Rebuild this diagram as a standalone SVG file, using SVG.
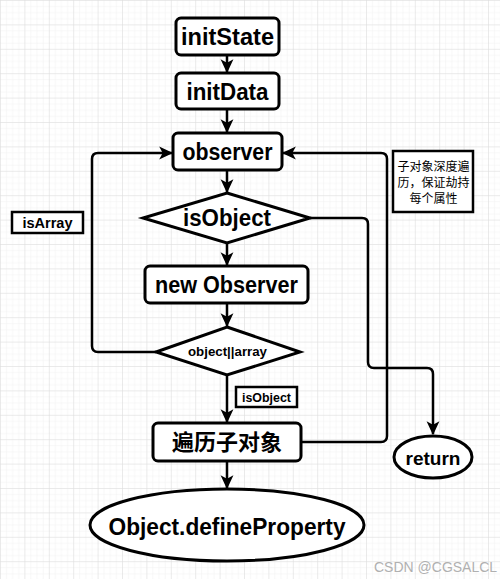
<svg xmlns="http://www.w3.org/2000/svg" width="500" height="579" viewBox="0 0 500 579">
<defs>
<pattern id="minor" width="6.1" height="6.1" patternUnits="userSpaceOnUse">
<path d="M0,0 V6.1 M0,0 H6.1" stroke="#f0f0f0" stroke-width="1" fill="none"/>
</pattern>
<pattern id="major" width="24.4" height="24.4" patternUnits="userSpaceOnUse">
<rect width="24.4" height="24.4" fill="url(#minor)"/>
<path d="M0,0 V24.4 M0,0 H24.4" stroke="#dcdcdc" stroke-width="1" fill="none"/>
</pattern>
<marker id="arr" markerUnits="userSpaceOnUse" markerWidth="14" markerHeight="14" viewBox="0 0 12 12" refX="11" refY="6" orient="auto">
<path d="M0,0.5 L12,6 L0,11.5 L3,6 z" fill="#000"/>
</marker>
<style>
.box{fill:#fff;stroke:#000;stroke-width:3}
.lbl{fill:#fff;stroke:#000;stroke-width:2.5}
.t{font-family:"Liberation Sans","DejaVu Sans",sans-serif;font-weight:bold;fill:#000;text-anchor:middle;dominant-baseline:central}
.c{font-family:"Liberation Sans","Noto Sans CJK SC",sans-serif;fill:#000;text-anchor:middle;dominant-baseline:central}
.line{fill:none;stroke:#000;stroke-width:2.5}
</style>
</defs>
<rect width="500" height="579" fill="#fff"/>
<rect width="500" height="579" fill="url(#major)"/>

<g id="connectors">
<path class="line" d="M227,55 V72" marker-end="url(#arr)"/>
<path class="line" d="M227,109 V132" marker-end="url(#arr)"/>
<path class="line" d="M227,170 V192" marker-end="url(#arr)"/>
<path class="line" d="M227,243 V265" marker-end="url(#arr)"/>
<path class="line" d="M227,303 V326" marker-end="url(#arr)"/>
<path class="line" d="M227,375 V422" marker-end="url(#arr)"/>
<path class="line" d="M227,461 V488" marker-end="url(#arr)"/>
<path class="line" d="M156,352 H98 Q92,352 92,346 V159 Q92,153 98,153 H172" marker-end="url(#arr)"/>
<path class="line" d="M301,442 H381 Q387,442 387,436 V159 Q387,153 381,153 H283" marker-end="url(#arr)"/>
<path class="line" d="M310,218 H362 Q368,218 368,224 V362 Q368,368 374,368 H427 Q433,368 433,374 V434" marker-end="url(#arr)"/>
</g>

<g id="initState">
<rect class="box" x="176" y="18" width="103" height="37" rx="5"/>
<text class="t" x="227.5" y="37" font-size="23" textLength="93" lengthAdjust="spacingAndGlyphs">initState</text>
</g>
<g id="initData">
<rect class="box" x="176" y="73" width="103" height="36" rx="5"/>
<text class="t" x="227.5" y="91.5" font-size="23" textLength="82" lengthAdjust="spacingAndGlyphs">initData</text>
</g>
<g id="observer">
<rect class="box" x="173" y="133" width="109" height="37" rx="5"/>
<text class="t" x="227.5" y="152" font-size="23" textLength="90" lengthAdjust="spacingAndGlyphs">observer</text>
</g>
<g id="isObject">
<polygon class="box" points="227,193 310,218 227,243 143,218"/>
<text class="t" x="227" y="218" font-size="23" textLength="88" lengthAdjust="spacingAndGlyphs">isObject</text>
</g>
<g id="newObserver">
<rect class="box" x="145" y="266" width="163" height="37" rx="5"/>
<text class="t" x="226.5" y="285" font-size="23" textLength="143" lengthAdjust="spacingAndGlyphs">new Observer</text>
</g>
<g id="objectOrArray">
<polygon class="box" points="227,327 300,352 227,375 156,352"/>
<text class="t" x="227.5" y="352" font-size="12" textLength="79" lengthAdjust="spacingAndGlyphs">object||array</text>
</g>
<g id="isObjectLabel">
<rect class="lbl" x="236" y="387" width="61" height="20"/>
<text class="t" x="266.5" y="397.5" font-size="12" textLength="49" lengthAdjust="spacingAndGlyphs">isObject</text>
</g>
<g id="isArrayLabel">
<rect class="lbl" x="12" y="212" width="71" height="21"/>
<text class="t" x="47.5" y="223" font-size="14" textLength="50" lengthAdjust="spacingAndGlyphs">isArray</text>
</g>
<g id="traverse">
<rect class="box" x="153" y="423" width="148" height="38" rx="5"/>
<text class="c" x="227" y="442" font-size="22" font-weight="bold" font-family="'Noto Sans CJK SC',sans-serif">遍历子对象</text>
</g>
<g id="note">
<rect class="lbl" x="393" y="151" width="80" height="61" stroke-width="3"/>
<text class="c" x="433.5" y="167" font-size="12">子对象深度遍</text>
<text class="c" x="433.5" y="183" font-size="12">历，保证劫持</text>
<text class="c" x="433.5" y="199" font-size="12">每个属性</text>
</g>
<g id="return">
<ellipse class="box" cx="433" cy="457" rx="39" ry="21"/>
<text class="t" x="433" y="458" font-size="19" textLength="55" lengthAdjust="spacingAndGlyphs">return</text>
</g>
<g id="defineProperty">
<ellipse class="box" cx="227" cy="525" rx="137" ry="36"/>
<text class="t" x="227" y="527" font-size="23" textLength="237" lengthAdjust="spacingAndGlyphs">Object.defineProperty</text>
</g>
<text x="374" y="572" font-family="'Liberation Sans',sans-serif" font-size="14" fill="#b0b0b0">CSDN @CGSALCL</text>
</svg>
